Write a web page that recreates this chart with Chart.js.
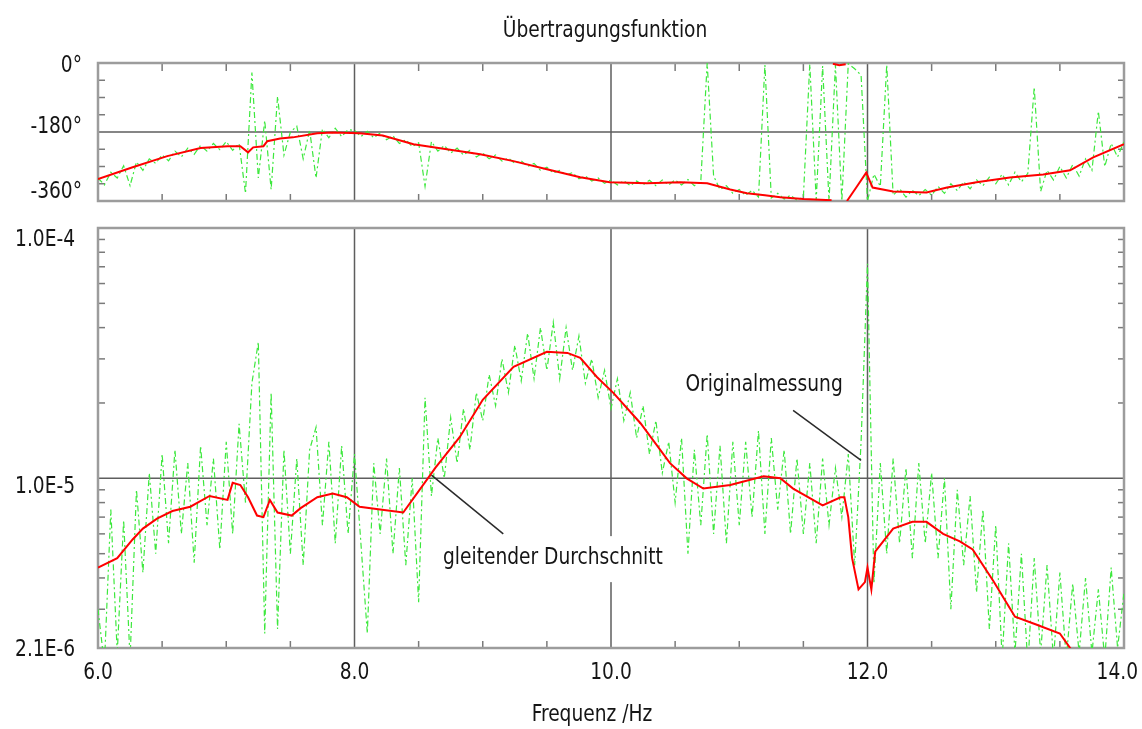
<!DOCTYPE html>
<html>
<head>
<meta charset="utf-8">
<script src="https://cdn.jsdelivr.net/npm/chart.js@4.4.0/dist/chart.umd.min.js"></script>
<style>
  html, body { margin: 0; padding: 0; background: #fff; }
  #wrap { position: relative; width: 1142px; height: 729px; }
  canvas { position: absolute; left: 0; }
  #phaseChart { top: 0; }
  #magChart { top: 210px; }
</style>
</head>
<body>
<div id="wrap">
  <canvas id="phaseChart" width="1142" height="210"></canvas>
  <canvas id="magChart" width="1142" height="519"></canvas>
</div>
<script>
// --- Daten ---
// Originalmessung: gleichmaessig abgetastet ab 6.0 Hz, Schritt 0.05 Hz
const RAW_START = 6.0;
const RAW_STEP = 0.05;

// Phase der Originalmessung (Grad)
const rawPhase = [
  -300, -318, -285, -300, -268, -320, -258, -280, -250, -262,
  -240, -255, -230, -245, -222, -238, -215, -230, -210, -226,
  -205, -228, -210, -340, -25, -300, -150, -330, -87, -240,
  -180, -165, -250, -175, -300, -172, -195, -170, -192, -174,
  -176, -192, -178, -195, -183, -200, -190, -210, -200, -218,
  -208, -322, -205, -230, -215, -235, -222, -240, -228, -245,
  -235, -250, -240, -256, -248, -262, -255, -270, -262, -280,
  -272, -287, -280, -292, -286, -302, -295, -308, -300, -314,
  -305, -318, -307, -320, -308, -318, -306, -320, -305, -318,
  -305, -318, -304, -320, -310, 0, -295, -330, -320, -340,
  -330, -345, -332, -350, -5, -352, -340, -355, -345, -358,
  -350, -3, -358, -8, -360, -5, -360, -2, -15, -32,
  -360, -290, -322, -5, -345, -328, -350, -332, -346, -330,
  -345, -322, -340, -315, -333, -310, -328, -305, -320, -298,
  -315, -290, -318, -285, -310, -288, -63, -335, -280, -305,
  -270, -300, -265, -295, -250, -280, -126, -270, -210, -245,
  -205
];

// Betrag der Originalmessung (in 1E-6)
const rawMag = [
  3.0, 1.8, 7.5, 2.0, 6.8, 1.9, 9.0, 4.2, 10.5, 5.0,
  12.5, 5.5, 13.0, 6.0, 11.5, 4.6, 13.5, 6.5, 12.0, 5.2,
  14.0, 6.0, 16.5, 8.0, 24.0, 35.0, 2.4, 22.0, 2.5, 13.0,
  5.0, 12.0, 4.5, 13.0, 16.0, 6.5, 14.0, 5.5, 13.5, 6.0,
  12.5, 5.5, 2.4, 11.5, 6.0, 12.0, 5.0, 11.0, 4.5, 10.0,
  3.2, 21.0, 8.5, 14.5, 10.0, 17.5, 11.5, 19.0, 13.0, 22.0,
  17.0, 26.0, 19.5, 30.0, 22.0, 34.0, 24.5, 38.0, 25.0, 40.0,
  27.0, 42.0, 25.0, 40.0, 27.0, 37.0, 24.0, 30.0, 21.0, 27.0,
  19.0, 25.0, 17.0, 22.0, 14.5, 19.5, 12.5, 17.0, 10.5, 14.0,
  8.0, 14.5, 5.0, 13.0, 6.5, 15.0, 6.0, 13.5, 5.5, 14.0,
  6.5, 14.0, 7.0, 15.5, 6.0, 14.5, 7.5, 13.0, 6.0, 12.0,
  6.0, 11.5, 5.5, 12.0, 6.5, 11.0, 7.0, 12.5, 4.5, 14.0,
  72.0, 3.8, 11.5, 5.0, 12.0, 5.5, 11.0, 4.8, 11.5, 5.5,
  10.5, 4.8, 10.0, 3.0, 9.0, 4.5, 8.5, 3.5, 7.5, 2.5,
  6.5, 1.9, 5.5, 2.0, 5.0, 1.8, 4.8, 2.0, 4.5, 1.9,
  4.2, 1.9, 3.8, 2.0, 4.0, 2.0, 3.6, 1.9, 4.4, 2.1,
  3.5
];

// gleitender Durchschnitt, Phase (null = Sprung bei der Phasenumkehr)
const avgPhaseFreq = [
  6.00, 6.27, 6.54, 6.80, 7.01, 7.11, 7.17, 7.21, 7.29, 7.32,
  7.42, 7.52, 7.71, 7.83, 8.04, 8.22, 8.46, 8.72, 8.98, 9.24,
  9.50, 9.76, 9.99, 10.28, 10.54, 10.75, 10.93, 11.06, 11.20, 11.32,
  11.50, 11.72, 11.725, 11.73, 11.78, 11.83, 11.835, 11.84, 11.92, 11.99,
  12.04, 12.20, 12.46, 12.62, 12.85, 13.11, 13.37, 13.58, 13.76, 14.00
];
const avgPhase = [
  -303, -272, -243, -222, -217, -217, -233, -220, -217, -204,
  -197, -194, -183, -181, -183, -189, -212, -225, -238, -256,
  -277, -298, -311, -314, -311, -314, -330, -340, -345, -350,
  -355, -358, null, -2, -6, -3, null, -360, -321, -286,
  -325, -335, -338, -325, -311, -299, -291, -280, -246, -212
];

// gleitender Durchschnitt, Betrag (in 1E-6)
const avgMagFreq = [
  6.00, 6.15, 6.27, 6.35, 6.46, 6.58, 6.72, 6.87, 7.01, 7.05,
  7.11, 7.17, 7.24, 7.29, 7.34, 7.40, 7.51, 7.58, 7.71, 7.83,
  7.94, 8.04, 8.20, 8.38, 8.59, 8.63, 8.82, 9.00, 9.24, 9.50,
  9.66, 9.76, 9.89, 10.02, 10.23, 10.46, 10.59, 10.72, 10.93, 11.19,
  11.32, 11.42, 11.65, 11.79, 11.82, 11.85, 11.88, 11.93, 11.98, 12.00,
  12.03, 12.06, 12.20, 12.35, 12.46, 12.59, 12.72, 12.82, 12.98, 13.15,
  13.32, 13.50, 13.58, 13.62
];
const avgMag = [
  4.4, 4.8, 5.7, 6.3, 6.9, 7.4, 7.7, 8.5, 8.2, 9.6,
  9.4, 8.4, 7.1, 7.0, 8.2, 7.3, 7.1, 7.6, 8.4, 8.7,
  8.4, 7.7, 7.5, 7.3, 10.3, 11.0, 14.6, 20.6, 27.9, 32.0,
  31.7, 30.3, 25.4, 21.9, 16.6, 11.5, 10.0, 9.1, 9.4, 10.2,
  10.0, 9.1, 7.8, 8.4, 8.4, 7.0, 4.8, 3.6, 3.85, 4.4,
  3.6, 5.1, 6.3, 6.7, 6.7, 6.0, 5.6, 5.2, 3.9, 2.8,
  2.6, 2.4, 2.1, 1.9
];

// Achsen
const xTicks = [6, 8, 10, 12, 14];
const xTickLabels = ['6.0', '8.0', '10.0', '12.0', '14.0'];
const xGrid = [8, 10, 12];
const xMinor = [6.5, 7, 7.5, 8.5, 9, 9.5, 10.5, 11, 11.5, 12.5, 13, 13.5];

const phaseTicks = [0, -180, -360];
const phaseTickLabels = ['0°', '-180°', '-360°'];
const phaseMinor = [-45, -90, -135, -225, -270, -315];

const magTicks = [1e-4, 1e-5, 2.1e-6];
const magTickLabels = ['1.0E-4', '1.0E-5', '2.1E-6'];
const magMinor = [3e-6, 4e-6, 5e-6, 6e-6, 7e-6, 8e-6, 9e-6, 2e-5, 3e-5, 4e-5, 5e-5, 6e-5, 7e-5, 8e-5, 9e-5];

const FONT = '23px "Liberation Sans Narrow", "Arial Narrow", "DejaVu Sans Condensed", sans-serif';
const TEXT = '#151515';
const SQUEEZE = 0.9; // schmale Schrift nachbilden

const rawFreq = rawMag.map((_, i) => +(RAW_START + i * RAW_STEP).toFixed(2));
const E6 = 1e-6;

function pairs(xs, ys, scale = 1) {
  return xs.map((x, i) => ({ x, y: ys[i] == null ? null : ys[i] * scale }));
}

function line(ctx, x1, y1, x2, y2) {
  ctx.beginPath();
  ctx.moveTo(x1, y1);
  ctx.lineTo(x2, y2);
  ctx.stroke();
}

function text(ctx, str, x, y, align) {
  ctx.save();
  ctx.translate(x, y);
  ctx.scale(SQUEEZE, 1);
  ctx.textAlign = align;
  ctx.fillText(str, 0, 0);
  ctx.restore();
}

// Rahmen, Gitter, Striche und Beschriftung
const framePlugin = {
  id: 'frame',
  beforeDatasetsDraw(chart, args, o) {
    const { ctx, chartArea: a, scales: { x, y } } = chart;
    ctx.save();
    ctx.strokeStyle = '#5e5e5e';
    ctx.lineWidth = 1.5;
    xGrid.forEach(v => {
      const px = x.getPixelForValue(v);
      line(ctx, px, a.top, px, a.bottom);
    });
    o.gridY.forEach(v => {
      const py = y.getPixelForValue(v);
      line(ctx, a.left, py, a.right, py);
    });

    ctx.strokeStyle = '#7a7a7a';
    xMinor.forEach(v => {
      const px = x.getPixelForValue(v);
      if (o.ticksTop) line(ctx, px, a.top, px, a.top + 8);
      line(ctx, px, a.bottom, px, a.bottom - 7);
    });
    o.yMinor.forEach(v => {
      const py = y.getPixelForValue(v);
      line(ctx, a.left, py, a.left + 7, py);
      line(ctx, a.right, py, a.right - 6, py);
    });

    ctx.strokeStyle = '#9c9c9c';
    ctx.lineWidth = 2.5;
    ctx.strokeRect(a.left, a.top, a.right - a.left, a.bottom - a.top);
    ctx.restore();
  },
  afterDraw(chart, args, o) {
    const { ctx, chartArea: a, scales: { x, y } } = chart;
    ctx.save();
    ctx.font = FONT;
    ctx.fillStyle = TEXT;
    ctx.textBaseline = 'middle';

    // y-Beschriftung
    o.yTicks.forEach((v, i) => {
      text(ctx, o.yLabels[i], o.yLabelRight, y.getPixelForValue(v) + o.yNudge[i], 'right');
    });

    if (o.title) text(ctx, o.title, 605, 31, 'center');

    if (o.xLabels) {
      xTicks.forEach((v, i) => {
        const w = ctx.measureText(xTickLabels[i]).width * SQUEEZE;
        const px = Math.min(x.getPixelForValue(v), chart.width - w / 2 - 4);
        text(ctx, xTickLabels[i], px, a.bottom + 25, 'center');
      });
      text(ctx, 'Frequenz /Hz', 592, a.bottom + 67, 'center');
    }

    (o.notes || []).forEach(n => {
      const tx = x.getPixelForValue(n.at[0]);
      const ty = y.getPixelForValue(n.at[1]);
      const w = ctx.measureText(n.text).width * SQUEEZE;
      if (n.clear) {
        ctx.fillStyle = '#fff';
        ctx.fillRect(tx - 3, ty - 22, w + 6, 46);
        ctx.fillStyle = TEXT;
      }
      text(ctx, n.text, tx, ty, 'left');
      ctx.strokeStyle = '#2a2a2a';
      ctx.lineWidth = 1.5;
      line(ctx, x.getPixelForValue(n.from[0]), y.getPixelForValue(n.from[1]),
        x.getPixelForValue(n.to[0]), y.getPixelForValue(n.to[1]));
    });
    ctx.restore();
  }
};

const redStyle = { borderColor: '#ff0000', borderWidth: 2, pointRadius: 0, tension: 0, spanGaps: false, clip: 0 };
const greenStyle = { borderColor: '#3de83d', borderWidth: 1.2, borderDash: [6, 3, 2, 3], pointRadius: 0, tension: 0, clip: 0 };

const common = {
  responsive: false,
  animation: false,
  devicePixelRatio: 1,
  events: [],
};

new Chart(document.getElementById('phaseChart'), {
  type: 'line',
  data: {
    datasets: [
      Object.assign({ label: 'gleitender Durchschnitt', data: pairs(avgPhaseFreq, avgPhase) }, redStyle),
      Object.assign({ label: 'Originalmessung', data: pairs(rawFreq, rawPhase) }, greenStyle)
    ]
  },
  options: Object.assign({}, common, {
    layout: { padding: { left: 98, right: 18, top: 63, bottom: 9 } },
    plugins: {
      legend: { display: false },
      tooltip: { enabled: false },
      frame: {
        gridY: [-180],
        yMinor: phaseMinor,
        ticksTop: true,
        yTicks: phaseTicks,
        yLabels: phaseTickLabels,
        yLabelRight: 82,
        yNudge: [3, -5, -9],
        title: 'Übertragungsfunktion'
      }
    },
    scales: {
      x: { type: 'linear', min: 6, max: 14, display: false },
      y: { type: 'linear', min: -360, max: 0, display: false }
    }
  }),
  plugins: [framePlugin]
});

new Chart(document.getElementById('magChart'), {
  type: 'line',
  data: {
    datasets: [
      Object.assign({ label: 'gleitender Durchschnitt', data: pairs(avgMagFreq, avgMag, E6) }, redStyle),
      Object.assign({ label: 'Originalmessung', data: pairs(rawFreq, rawMag, E6) }, greenStyle)
    ]
  },
  options: Object.assign({}, common, {
    layout: { padding: { left: 98, right: 18, top: 18, bottom: 81 } },
    plugins: {
      legend: { display: false },
      tooltip: { enabled: false },
      frame: {
        gridY: [1e-5],
        yMinor: magMinor,
        ticksTop: false,
        yTicks: magTicks,
        yLabels: magTickLabels,
        yLabelRight: 75,
        yNudge: [12, 9, 2],
        xLabels: true,
        notes: [
          { text: 'gleitender Durchschnitt', at: [8.69, 4.8e-6], from: [9.16, 6.0e-6], to: [8.60, 1.03e-5], clear: true },
          { text: 'Originalmessung', at: [10.58, 2.36e-5], from: [11.42, 1.87e-5], to: [11.95, 1.18e-5] }
        ]
      }
    },
    scales: {
      x: { type: 'linear', min: 6, max: 14, display: false },
      y: { type: 'logarithmic', min: 2.1e-6, max: 1e-4, display: false }
    }
  }),
  plugins: [framePlugin]
});
</script>
</body>
</html>
